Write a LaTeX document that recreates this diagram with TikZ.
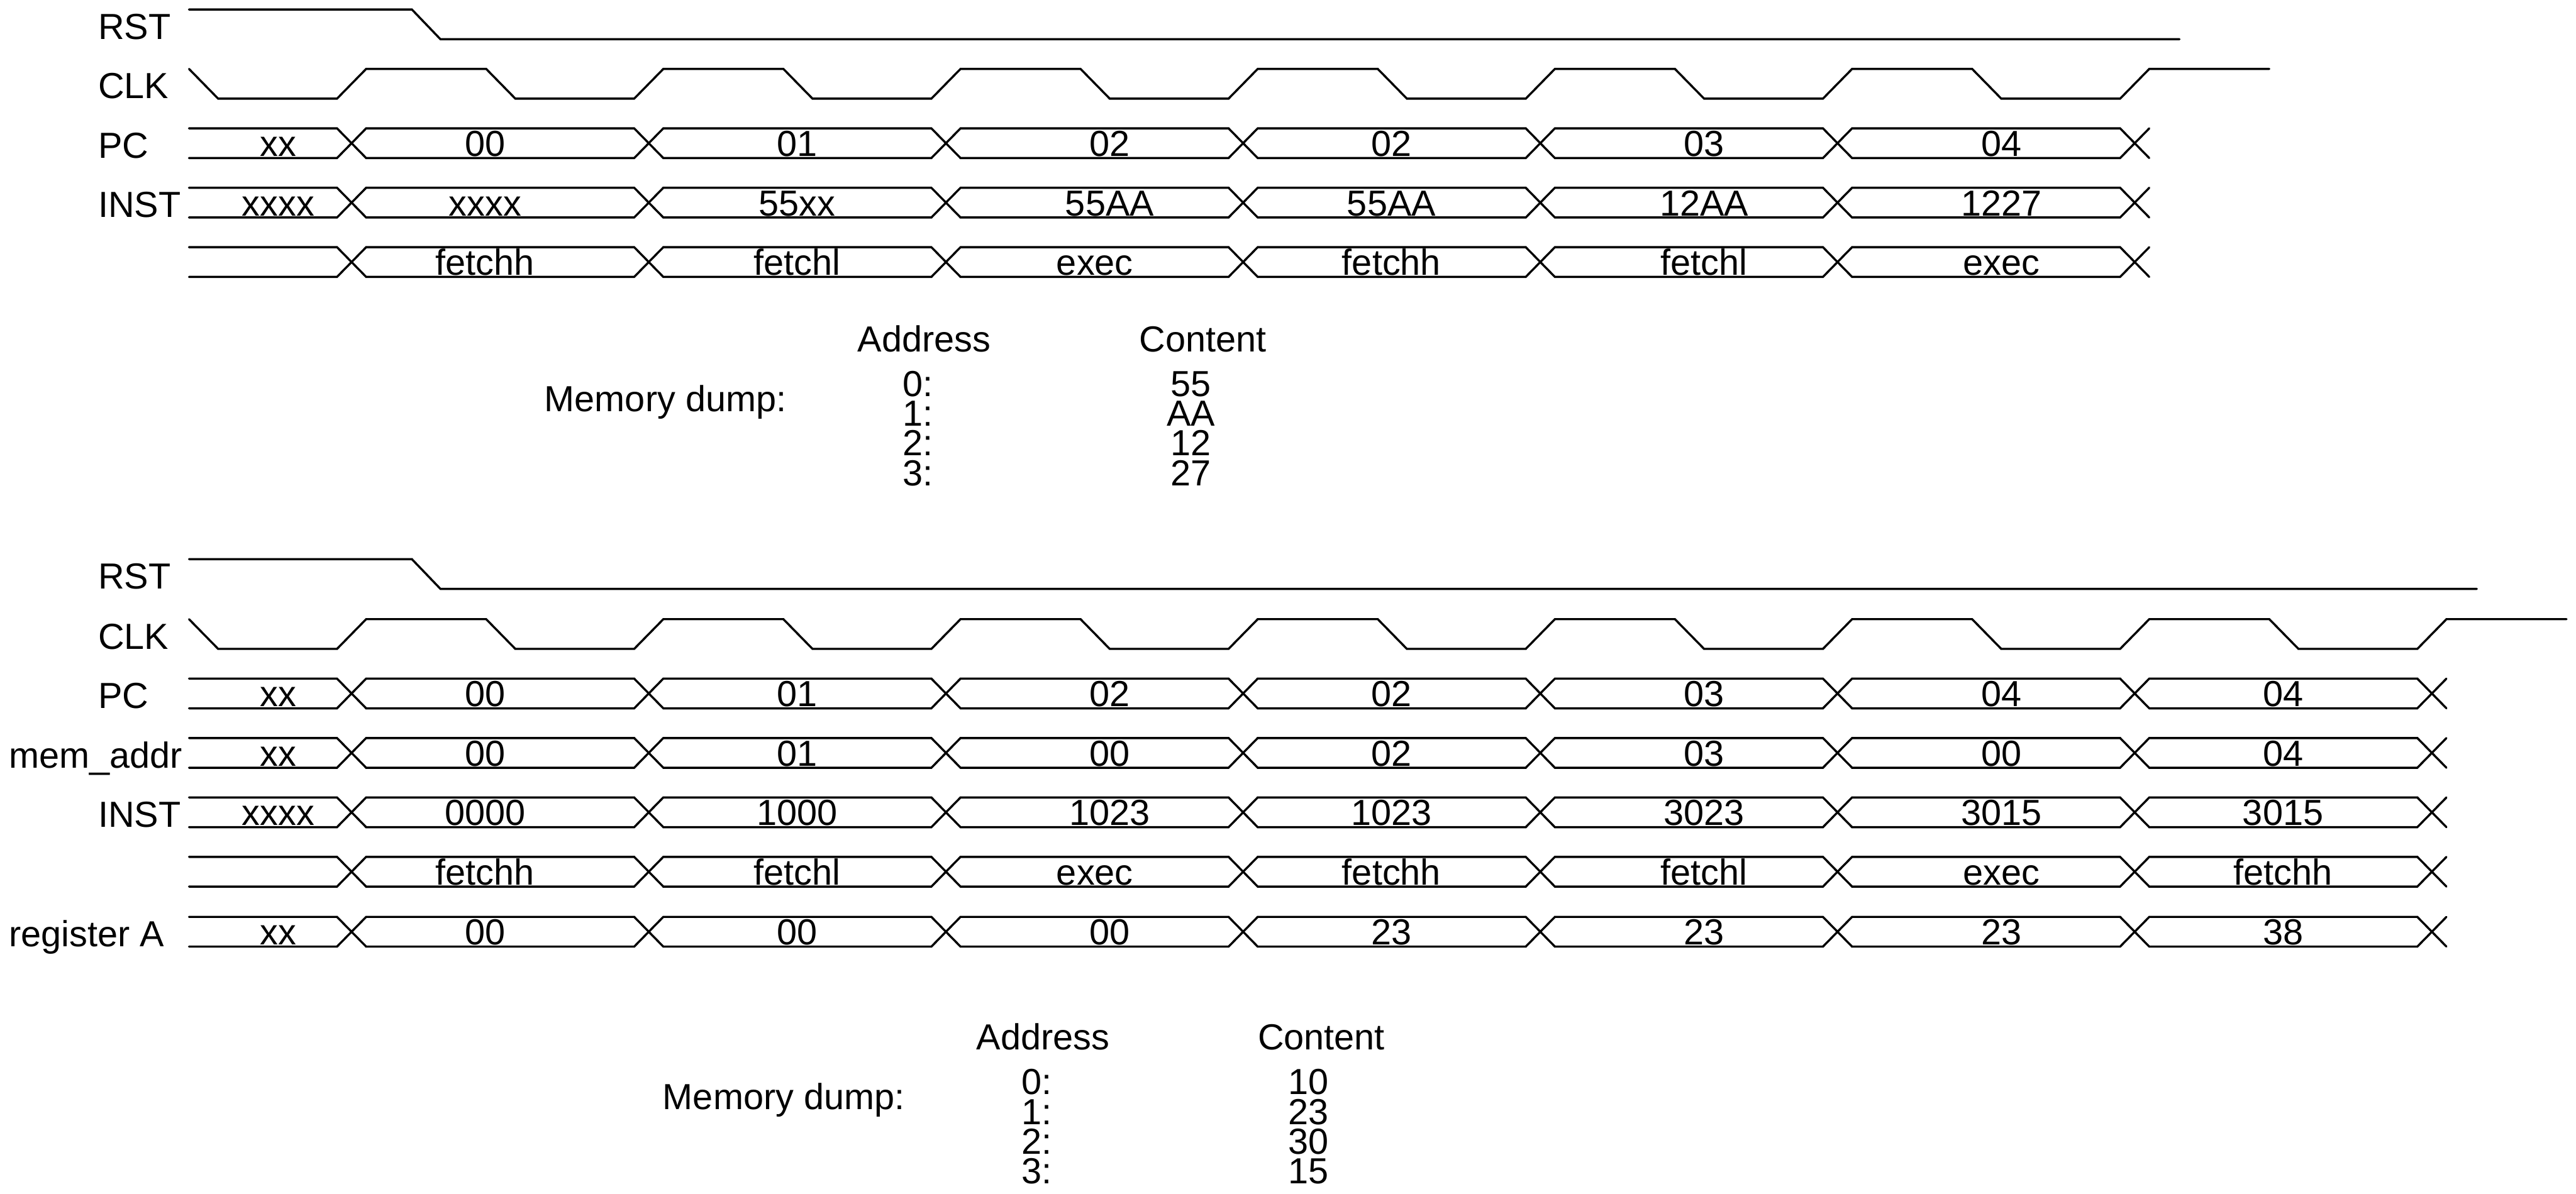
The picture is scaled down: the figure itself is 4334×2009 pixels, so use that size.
\documentclass[tikz,border=0pt]{standalone}
\usepackage{fontspec}
\setmainfont{Liberation Sans}
\newcommand\clkwave[3]{% high y, low y, last period index
  \draw[sig] (318,#1) \foreach \k in {0,...,#3} { -- ({367+500*\k},#2) -- ({567+500*\k},#2) -- ({616+500*\k},#1) -- ({818+500*\k},#1) };}
\newcommand\busline[3]{% start y, other y, last crossing index
  \draw[sig] (318,#1) \foreach \k [evaluate=\k as \yb using {isodd(\k) ? #2 : #1}, evaluate=\k as \ya using {isodd(\k) ? #1 : #2}] in {0,...,#3} { -- ({567+500*\k},\yb) -- ({616+500*\k},\ya) };}
\newcommand\buswave[3]{\busline{#1}{#2}{#3}\busline{#2}{#1}{#3}}
\begin{document}
\begin{tikzpicture}[x=1pt,y=-1pt,
  sig/.style={line width=3.6pt, line cap=round, line join=miter},
  lbl/.style={anchor=base west, inner sep=0pt, font=\fontsize{61}{61}\selectfont},
  val/.style={anchor=base, inner sep=0pt, font=\fontsize{61}{61}\selectfont}]
\useasboundingbox (0,0) rectangle (4334,2009);

% ---------------- top diagram ----------------
\node[lbl] (tlrst) at (165,66) {RST};
\node[lbl] (tlclk) at (165,166) {CLK};
\node[lbl] (tlpc) at (165,266) {PC};
\node[lbl] (tlinst) at (165,366) {INST};

\draw[sig] (318,16) -- (693,16) -- (741,66) -- (3667,66);
\clkwave{116}{166}{6}
\buswave{216}{266}{6}
\buswave{316}{366}{6}
\buswave{416}{466}{6}

\foreach \x/\v [count=\i] in {468/xx,816/00,1341/01,1867/02,2341/02,2867/03,3367/04}
  \node[val] (tpc\i) at (\x,263) {\v};
\foreach \x/\v [count=\i] in {468/xxxx,816/xxxx,1341/55xx,1867/55AA,2341/55AA,2867/12AA,3367/1227}
  \node[val] (tinst\i) at (\x,363) {\v};
\foreach \x/\v [count=\i] in {816/fetchh,1341/fetchl,1842/exec,2341/fetchh,2867/fetchl,3367/exec}
  \node[val] (tst\i) at (\x,463) {\v};

\node[lbl] (tmd) at (916,692) {Memory dump:};
\node[lbl] (tadr) at (1443,592) {Address};
\node[lbl] (tcon) at (1917,592) {Content};
\foreach \a/\c [count=\i from 0] in {0/55,1/AA,2/12,3/27}{
  \node[lbl] (tma\i) at (1519,{667+50*\i}) {\a:};
  \node[val] (tmc\i) at (2004,{667+50*\i}) {\c};
}

% ---------------- bottom diagram ----------------
\node[lbl] (blrst) at (165,991) {RST};
\node[lbl] (blclk) at (165,1092) {CLK};
\node[lbl] (blpc) at (165,1192) {PC};
\node[lbl] (blmem) at (15,1292) {mem\_addr};
\node[lbl] (blinst) at (165,1392) {INST};
\node[lbl] (blreg) at (15,1593) {register A};

\draw[sig] (318,941) -- (693,941) -- (741,991) -- (4167,991);
\clkwave{1042}{1092}{7}
\buswave{1142}{1192}{7}
\buswave{1242}{1292}{7}
\buswave{1342}{1392}{7}
\buswave{1442}{1492}{7}
\buswave{1543}{1593}{7}

\foreach \x/\v [count=\i] in {468/xx,816/00,1341/01,1867/02,2341/02,2867/03,3367/04,3841/04}
  \node[val] (bpc\i) at (\x,1189) {\v};
\foreach \x/\v [count=\i] in {468/xx,816/00,1341/01,1867/00,2341/02,2867/03,3367/00,3841/04}
  \node[val] (bmem\i) at (\x,1289) {\v};
\foreach \x/\v [count=\i] in {468/xxxx,816/0000,1341/1000,1867/1023,2341/1023,2867/3023,3367/3015,3841/3015}
  \node[val] (binst\i) at (\x,1389) {\v};
\foreach \x/\v [count=\i] in {816/fetchh,1341/fetchl,1842/exec,2341/fetchh,2867/fetchl,3367/exec,3841/fetchh}
  \node[val] (bst\i) at (\x,1489) {\v};
\foreach \x/\v [count=\i] in {468/xx,816/00,1341/00,1867/00,2341/23,2867/23,3367/23,3841/38}
  \node[val] (breg\i) at (\x,1590) {\v};

\node[lbl] (bmd) at (1115,1867) {Memory dump:};
\node[lbl] (badr) at (1643,1767) {Address};
\node[lbl] (bcon) at (2116,1767) {Content};
\foreach \a/\c [count=\i from 0] in {0/10,1/23,2/30,3/15}{
  \node[lbl] (bma\i) at (1719,{1842+50*\i}) {\a:};
  \node[val] (bmc\i) at (2201,{1842+50*\i}) {\c};
}
\end{tikzpicture}
\end{document}
